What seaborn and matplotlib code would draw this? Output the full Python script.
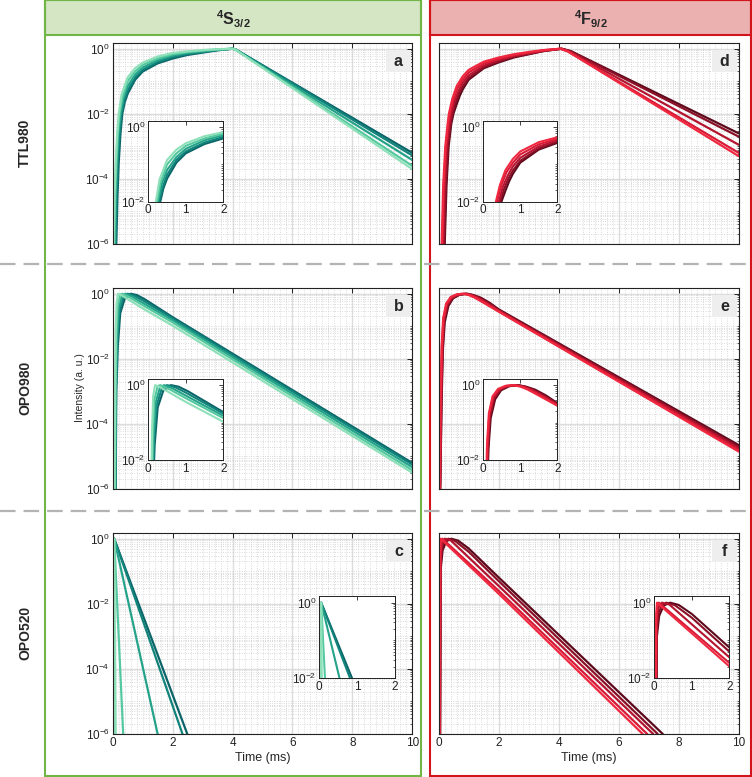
import numpy as np
import pandas as pd
import matplotlib
matplotlib.use("Agg")
import matplotlib.pyplot as plt
from matplotlib import ticker, patches, lines as mlines
import seaborn as sns

# ==============================
# Data (time in ms, log10 of normalised intensity)
# ==============================
greens = ["#8ee0b9", "#55c8a0", "#25a38a", "#11837a", "#0b6468"]
reds = ["#f0283f", "#d81a36", "#b3142e", "#891027", "#5c0a1b"]

# a: 4S3/2, TTL980
a_time = [
    [0.03, 0.06, 0.10, 0.15, 0.20, 0.30, 0.50, 0.75, 1.0, 1.5, 2.0, 2.5, 3.0, 3.5, 4.0, 4.1, 10],
    [0.05, 0.08, 0.12, 0.17, 0.23, 0.32, 0.50, 0.75, 1.0, 1.5, 2.0, 2.5, 3.0, 3.5, 4.0, 4.1, 10],
    [0.07, 0.10, 0.14, 0.19, 0.26, 0.35, 0.50, 0.75, 1.0, 1.5, 2.0, 2.5, 3.0, 3.5, 4.0, 4.1, 10],
    [0.10, 0.13, 0.17, 0.23, 0.29, 0.38, 0.50, 0.75, 1.0, 1.5, 2.0, 2.5, 3.0, 3.5, 4.0, 4.1, 10],
    [0.12, 0.16, 0.20, 0.26, 0.32, 0.40, 0.50, 0.75, 1.0, 1.5, 2.0, 2.5, 3.0, 3.5, 4.0, 4.1, 10],
]
a_log = [
    [-6, -4.5, -3.5, -2.6, -2.0, -1.40, -0.88, -0.60, -0.43, -0.24, -0.13, -0.08, -0.04, -0.015, 0, -0.03, -3.70],
    [-6, -4.5, -3.5, -2.6, -2.0, -1.50, -1.00, -0.70, -0.50, -0.30, -0.17, -0.10, -0.06, -0.02, 0, -0.03, -3.60],
    [-6, -4.5, -3.5, -2.6, -2.0, -1.55, -1.15, -0.80, -0.58, -0.35, -0.21, -0.13, -0.08, -0.03, 0, -0.03, -3.42],
    [-6, -4.5, -3.5, -2.6, -2.0, -1.62, -1.28, -0.88, -0.65, -0.41, -0.26, -0.16, -0.10, -0.04, 0, -0.02, -3.28],
    [-6, -4.5, -3.5, -2.6, -2.0, -1.65, -1.38, -0.95, -0.70, -0.45, -0.30, -0.19, -0.12, -0.05, 0, -0.02, -3.20],
]

# d: 4F9/2, TTL980
d_time = [
    [0.10, 0.15, 0.22, 0.30, 0.34, 0.45, 0.60, 0.80, 1.0, 1.5, 2.0, 2.5, 3.0, 3.5, 4.05, 4.30, 10],
    [0.12, 0.17, 0.24, 0.32, 0.37, 0.48, 0.62, 0.80, 1.0, 1.5, 2.0, 2.5, 3.0, 3.5, 4.05, 4.30, 10],
    [0.15, 0.20, 0.27, 0.36, 0.42, 0.52, 0.66, 0.80, 1.0, 1.5, 2.0, 2.5, 3.0, 3.5, 4.10, 4.35, 10],
    [0.18, 0.24, 0.31, 0.40, 0.46, 0.56, 0.68, 0.80, 1.0, 1.5, 2.0, 2.5, 3.0, 3.5, 4.10, 4.40, 10],
    [0.20, 0.26, 0.33, 0.42, 0.49, 0.60, 0.70, 0.80, 1.0, 1.5, 2.0, 2.5, 3.0, 3.5, 4.10, 4.40, 10],
]
d_log = [
    [-6, -4.2, -3.0, -2.3, -2.0, -1.55, -1.15, -0.85, -0.65, -0.40, -0.27, -0.17, -0.10, -0.04, 0, -0.08, -3.30],
    [-6, -4.2, -3.0, -2.3, -2.0, -1.58, -1.22, -0.95, -0.73, -0.46, -0.31, -0.20, -0.12, -0.05, 0, -0.08, -3.20],
    [-6, -4.2, -3.0, -2.3, -2.0, -1.62, -1.30, -1.05, -0.82, -0.52, -0.35, -0.22, -0.14, -0.06, 0, -0.08, -2.95],
    [-6, -4.2, -3.0, -2.3, -2.0, -1.66, -1.38, -1.16, -0.90, -0.57, -0.39, -0.25, -0.16, -0.07, 0, -0.08, -2.70],
    [-6, -4.2, -3.0, -2.3, -2.0, -1.70, -1.45, -1.25, -0.95, -0.60, -0.42, -0.27, -0.17, -0.07, 0, -0.07, -2.60],
]

# b: 4S3/2, OPO980
b_time = [
    [0.06, 0.08, 0.10, 0.13, 0.18, 0.30, 0.60, 1.0, 2.0, 10],
    [0.07, 0.09, 0.12, 0.16, 0.25, 0.32, 0.60, 1.0, 2.0, 10],
    [0.08, 0.10, 0.14, 0.20, 0.30, 0.42, 0.65, 1.0, 2.0, 10],
    [0.09, 0.11, 0.15, 0.22, 0.35, 0.50, 0.72, 1.0, 2.0, 10],
    [0.10, 0.12, 0.17, 0.25, 0.40, 0.60, 0.80, 1.05, 2.0, 10],
]
b_log = [
    [-6, -3.0, -1.2, -0.30, 0.00, -0.05, -0.22, -0.45, -0.98, -5.50],
    [-6, -3.0, -1.3, -0.40, -0.03, 0.00, -0.13, -0.35, -0.88, -5.42],
    [-6, -3.0, -1.4, -0.45, -0.10, 0.00, -0.09, -0.28, -0.82, -5.33],
    [-6, -3.0, -1.5, -0.55, -0.12, 0.00, -0.06, -0.20, -0.76, -5.25],
    [-6, -3.0, -1.6, -0.60, -0.15, 0.00, -0.04, -0.16, -0.72, -5.20],
]

# e: 4F9/2, OPO980
e_time = [
    [0.03, 0.06, 0.10, 0.15, 0.25, 0.40, 0.60, 0.80, 1.00, 1.20, 1.50, 2.0, 10],
    [0.04, 0.07, 0.11, 0.16, 0.26, 0.42, 0.62, 0.85, 1.05, 1.25, 1.55, 2.0, 10],
    [0.04, 0.08, 0.12, 0.17, 0.28, 0.44, 0.65, 0.88, 1.08, 1.30, 1.60, 2.0, 10],
    [0.05, 0.09, 0.13, 0.18, 0.30, 0.46, 0.68, 0.92, 1.12, 1.35, 1.65, 2.0, 10],
    [0.05, 0.10, 0.14, 0.20, 0.32, 0.48, 0.70, 0.95, 1.15, 1.40, 1.70, 2.0, 10],
]
e_log = [
    [-6, -3.2, -1.60, -0.75, -0.30, -0.10, -0.02, 0, -0.04, -0.12, -0.28, -0.55, -4.85],
    [-6, -3.2, -1.60, -0.78, -0.32, -0.11, -0.02, 0, -0.04, -0.12, -0.28, -0.54, -4.80],
    [-6, -3.2, -1.65, -0.80, -0.34, -0.12, -0.03, 0, -0.04, -0.12, -0.28, -0.52, -4.75],
    [-6, -3.2, -1.70, -0.85, -0.36, -0.13, -0.03, 0, -0.04, -0.12, -0.28, -0.50, -4.70],
    [-6, -3.2, -1.70, -0.88, -0.38, -0.14, -0.03, 0, -0.04, -0.12, -0.28, -0.48, -4.65],
]

# c: 4S3/2, OPO520
c_time = [
    [0.02, 0.035, 0.05, 0.10],
    [0.02, 0.035, 0.05, 0.35],
    [0.02, 0.035, 0.05, 1.50],
    [0.02, 0.035, 0.05, 2.33],
    [0.02, 0.035, 0.05, 2.49],
]
c_log = [
    [-6, -0.3, 0, -6],
    [-6, -0.3, 0, -6],
    [-6, -0.3, 0, -6],
    [-6, -0.3, 0, -6],
    [-6, -0.3, 0, -6],
]

# f: 4F9/2, OPO520
f_time = [
    [0.03, 0.05, 0.07, 2.0, 6.80],
    [0.03, 0.05, 0.08, 0.12, 2.0, 6.95],
    [0.04, 0.06, 0.10, 0.20, 0.40, 2.0, 7.15],
    [0.04, 0.06, 0.12, 0.20, 0.32, 0.55, 1.0, 2.0, 7.30],
    [0.05, 0.07, 0.13, 0.25, 0.42, 0.65, 1.0, 2.0, 7.47],
]
f_log = [
    [-6, -0.30, 0, -1.69, -6],
    [-6, -0.50, -0.10, 0, -1.60, -6],
    [-6, -0.60, -0.15, 0, -0.05, -1.45, -6],
    [-6, -0.80, -0.25, -0.08, 0, -0.07, -0.40, -1.30, -6],
    [-6, -0.90, -0.35, -0.08, 0, -0.06, -0.30, -1.19, -6],
]

col_titles = [r"$^{\mathbf{4}}\mathbf{S}_{\mathbf{3/2}}$", r"$^{\mathbf{4}}\mathbf{F}_{\mathbf{9/2}}$"]
row_titles = ["TTL980", "OPO980", "OPO520"]
panel_letters = ["a", "d", "b", "e", "c", "f"]

# ==============================
# Style
# ==============================
sns.set_style("white")
plt.rcParams["font.family"] = ["Liberation Sans", "DejaVu Sans"]
plt.rcParams["mathtext.fontset"] = "custom"
plt.rcParams["mathtext.rm"] = "Liberation Sans"
plt.rcParams["mathtext.it"] = "Liberation Sans:italic"
plt.rcParams["mathtext.bf"] = "Liberation Sans:bold"

W, H = 752, 777
fig = plt.figure(figsize=(W / 100, H / 100), dpi=100)


def rect(x0, y0, x1, y1):
    return [x0 / W, 1 - y1 / H, (x1 - x0) / W, (y1 - y0) / H]


def frame(df_times, df_logs):
    rows = []
    for i, (t, l) in enumerate(zip(df_times, df_logs)):
        rows.append(pd.DataFrame({"time": t, "intensity": np.power(10.0, l), "curve": f"c{i}"}))
    return pd.concat(rows, ignore_index=True)


def draw(ax, df, colors, lw=1.6):
    # dark curves first, light/bright ones on top
    order = [f"c{i}" for i in range(4, -1, -1)]
    sns.lineplot(data=df, x="time", y="intensity", hue="curve",
                 hue_order=order, palette=colors[::-1],
                 estimator=None, sort=False, legend=False, ax=ax, lw=lw,
                 solid_joinstyle="round")


def minor_logs(lo, hi):
    vals = []
    for k in range(lo, hi + 1):
        for m in range(1, 10):
            if m == 1 and k % 2 == 0:
                continue
            vals.append(m * 10.0 ** k)
    return vals


def style_main(ax, xlabels, ylabels):
    ax.set_yscale("log")
    ax.set_xlim(0, 10)
    ax.set_ylim(1e-6, 1.5)
    ax.yaxis.set_major_locator(ticker.FixedLocator([1e-6, 1e-4, 1e-2, 1]))
    ax.yaxis.set_major_formatter(ticker.LogFormatterSciNotation())
    ax.yaxis.set_minor_locator(ticker.FixedLocator(minor_logs(-6, 0)))
    ax.yaxis.set_minor_formatter(ticker.NullFormatter())
    ax.xaxis.set_major_locator(ticker.MultipleLocator(2))
    ax.xaxis.set_minor_locator(ticker.MultipleLocator(0.2))
    ax.grid(which="major", color="#dcdcdc", lw=1.0, ls="-")
    ax.grid(which="minor", color="#cfcfcf", lw=0.6, ls=(0, (1, 1.8)))
    ax.set_axisbelow(True)
    ax.tick_params(which="both", direction="in", top=True, right=True,
                   labelsize=8.5, colors="#222222", pad=2)
    ax.tick_params(which="major", length=3.5, width=0.7)
    ax.tick_params(which="minor", length=1.8, width=0.5)
    ax.tick_params(axis="x", which="minor", length=0)
    ax.tick_params(labelbottom=xlabels, labelleft=ylabels)
    for s in ax.spines.values():
        s.set_color("#222222")
        s.set_linewidth(0.8)
    ax.set_xlabel("")
    ax.set_ylabel("")


def style_inset(ax):
    ax.set_yscale("log")
    ax.set_xlim(0, 2)
    ax.set_ylim(1e-2, 1.5)
    ax.yaxis.set_major_locator(ticker.FixedLocator([1e-2, 1]))
    ax.yaxis.set_major_formatter(ticker.LogFormatterSciNotation())
    ax.yaxis.set_minor_locator(ticker.FixedLocator(minor_logs(-2, 0)))
    ax.yaxis.set_minor_formatter(ticker.NullFormatter())
    ax.xaxis.set_major_locator(ticker.FixedLocator([0, 1, 2]))
    ax.grid(False)
    ax.set_facecolor("white")
    ax.tick_params(which="both", direction="in", top=True, right=True,
                   labelsize=8.5, colors="#222222", pad=2)
    ax.tick_params(which="major", length=3, width=0.6)
    ax.tick_params(which="minor", length=1.5, width=0.5)
    for s in ax.spines.values():
        s.set_color("#222222")
        s.set_linewidth(0.7)
    ax.set_xlabel("")
    ax.set_ylabel("")


# ==============================
# Boxes, headers, separators
# ==============================
green_edge, green_fill = "#70b545", "#d5e6c5"
red_edge, red_fill = "#d2141c", "#ebb0b0"
for (x0, x1, ec, fc, title) in [(45, 421, green_edge, green_fill, col_titles[0]),
                                (430, 751, red_edge, red_fill, col_titles[1])]:
    fig.add_artist(patches.Rectangle((x0 / W, 1 - 35 / H), (x1 - x0) / W, 35 / H,
                                     transform=fig.transFigure, fc=fc, ec=ec, lw=1.5, zorder=0))
    fig.add_artist(patches.Rectangle((x0 / W, 1 - 776 / H), (x1 - x0) / W, 776 / H,
                                     transform=fig.transFigure, fill=False, ec=ec, lw=1.5, zorder=0))
    fig.text((x0 + x1) / 2 / W, 1 - 19 / H, title, ha="center", va="center", fontsize=11.5)

for yy in [264, 511]:
    fig.add_artist(mlines.Line2D([0, 1], [1 - yy / H, 1 - yy / H], transform=fig.transFigure,
                                 color="#b3b3b3", lw=1.6, dashes=(7, 3.6), zorder=0))

for label, yc in zip(row_titles, [143, 388, 633]):
    fig.text(25 / W, 1 - yc / H, label, rotation=90, ha="center", va="center",
             fontsize=10, fontweight="bold")

fig.text(80 / W, 1 - 388 / H, "Intensity (a. u.)", rotation=90, ha="center", va="center",
         fontsize=7.5)

# ==============================
# Panels
# ==============================
main_rects = [
    (112.7, 43, 412.3, 244), (438.7, 43, 738.7, 244),
    (112.7, 288, 412.3, 489), (438.7, 288, 738.7, 489),
    (112.7, 533, 412.3, 734), (438.7, 533, 738.7, 734),
]
inset_rects = [
    (148.3, 120.7, 223.3, 201.7), (483.3, 120.7, 557.3, 201.7),
    (148.3, 378.5, 223.3, 460), (483.3, 378.5, 557.3, 460),
    (319.3, 596, 395, 678), (654.3, 596, 729.3, 678),
]
panel_data = [
    (a_time, a_log, greens), (d_time, d_log, reds),
    (b_time, b_log, greens), (e_time, e_log, reds),
    (c_time, c_log, greens), (f_time, f_log, reds),
]

for i, (times, logs, colors) in enumerate(panel_data):
    df = frame(times, logs)
    left_col = i % 2 == 0
    bottom_row = i >= 4

    ax = fig.add_axes(rect(*main_rects[i]))
    draw(ax, df, colors)
    style_main(ax, bottom_row, left_col)
    if bottom_row:
        ax.set_xlabel("Time (ms)", fontsize=9, labelpad=2)

    # panel letter in a grey box
    ax.add_patch(patches.Rectangle((0.912, 0.855), 0.083, 0.11, transform=ax.transAxes,
                                   fc="#eeeeee", ec="none", zorder=2.5))
    ax.text(0.9535, 0.91, panel_letters[i], transform=ax.transAxes, ha="center", va="center",
            fontsize=11.5, fontweight="bold", zorder=3)

    axi = fig.add_axes(rect(*inset_rects[i]))
    draw(axi, df, colors, lw=1.5)
    style_inset(axi)

fig.savefig("out.png", dpi=100)
